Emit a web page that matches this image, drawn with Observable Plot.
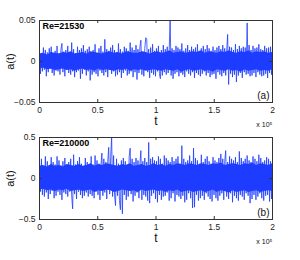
<!DOCTYPE html>
<html>
<head>
<meta charset="utf-8">
<script src="https://cdn.jsdelivr.net/npm/d3@7"></script>
<script src="https://cdn.jsdelivr.net/npm/@observablehq/plot@0.6"></script>
<style>
  html, body { margin: 0; padding: 0; background: #fff; }
  #chart > div, #chart svg { display: block; }
</style>
</head>
<body>
<div id="chart"></div>
<script>
// ---- data ----
const xTicks = [0, 0.5, 1, 1.5, 2];
const xTickLabels = ["0", "0.5", "1", "1.5", "2"];
const xLabel = "t";
const xScaleNote = "x 10⁵";
const yLabel = "a(t)";
const tMax = 2; // t in units of 10^5

const panelA_title = "Re=21530";
const panelA_tag = "(a)";
const panelA_yTicks = [-0.05, 0, 0.05];
const panelA_yTickLabels = ["−0.05", "0", "0.05"];
// sampled signal (spikes and fringe)
const panelA_values = [
  0.013,-0.015,0.009,-0.012,0.017,-0.010,0.014,-0.018,0.011,-0.013,
  0.016,-0.009,0.018,-0.014,0.010,-0.017,0.013,-0.011,0.019,-0.012,
  0.010,-0.016,0.015,0.022,-0.013,0.012,-0.018,0.014,-0.010,0.019,
  -0.014,0.011,-0.016,0.023,-0.012,0.015,-0.019,0.010,-0.013,0.018,
  -0.011,0.014,-0.021,0.016,-0.015,0.020,-0.010,0.013,-0.017,0.015,
  -0.012,0.018,-0.023,0.011,-0.016,0.014,-0.013,0.021,-0.015,0.010,
  -0.018,0.016,-0.011,0.019,-0.014,0.012,-0.017,0.027,-0.013,0.015,
  -0.019,0.013,-0.010,0.017,-0.015,0.020,-0.012,0.014,-0.018,0.011,
  -0.016,0.022,-0.013,0.015,-0.020,0.012,-0.014,0.018,-0.011,0.016,
  -0.017,0.013,-0.015,0.023,-0.012,0.017,-0.019,0.014,-0.013,0.020,
  -0.022,0.015,-0.014,0.018,0.026,-0.016,0.012,-0.018,0.016,0.029,
  0.027,-0.013,0.015,-0.020,0.017,-0.014,0.021,-0.016,0.013,-0.018,
  0.016,-0.012,0.019,-0.015,-0.021,0.014,-0.017,0.020,-0.013,0.015,
  -0.016,0.018,-0.014,0.013,0.050,-0.017,0.016,-0.021,0.014,-0.015,
  0.019,-0.013,0.017,-0.018,0.015,-0.014,0.022,-0.016,0.013,-0.019,
  0.016,-0.012,0.020,-0.015,0.014,-0.017,0.018,-0.013,0.015,-0.020,
  0.017,-0.014,0.021,-0.016,0.013,-0.018,0.016,-0.015,0.019,-0.012,
  0.015,-0.017,0.020,-0.014,0.016,-0.019,0.013,-0.016,0.018,-0.015,
  0.014,-0.021,0.017,-0.013,0.019,-0.016,0.015,-0.018,0.020,-0.014,
  0.016,-0.017,0.013,0.033,-0.028,0.018,-0.015,0.017,-0.019,0.014,
  -0.016,0.021,-0.025,0.015,-0.017,0.019,-0.014,0.016,-0.020,0.018,
  -0.013,0.017,-0.016,0.047,-0.015,0.020,-0.018,0.014,-0.017,0.019,
  -0.014,0.016,-0.019,0.017,-0.013,0.021,-0.016,0.015,-0.018,0.014,
  -0.017,0.019,-0.015,0.016,-0.020,0.017,-0.014,0.018,-0.016,0.013
];
// dense core of the band (upper / lower edge), 60 bins
const panelA_coreHi = [
  0.009,0.010,0.008,0.011,0.010,0.009,0.011,0.010,0.012,0.009,
  0.010,0.011,0.009,0.012,0.011,0.010,0.009,0.011,0.012,0.010,
  0.011,0.009,0.012,0.011,0.010,0.010,0.012,0.011,0.009,0.011,
  0.012,0.010,0.011,0.013,0.010,0.011,0.012,0.010,0.011,0.012,
  0.011,0.013,0.010,0.012,0.011,0.010,0.012,0.011,0.013,0.011,
  0.010,0.012,0.011,0.013,0.010,0.012,0.011,0.012,0.010,0.011
];
const panelA_coreLo = [
  -0.009,-0.008,-0.010,-0.009,-0.011,-0.010,-0.009,-0.011,-0.010,-0.012,
  -0.010,-0.009,-0.011,-0.010,-0.012,-0.009,-0.011,-0.010,-0.011,-0.012,
  -0.010,-0.011,-0.009,-0.012,-0.010,-0.011,-0.010,-0.012,-0.011,-0.010,
  -0.011,-0.012,-0.010,-0.011,-0.012,-0.010,-0.013,-0.011,-0.010,-0.012,
  -0.011,-0.010,-0.012,-0.011,-0.013,-0.010,-0.011,-0.012,-0.010,-0.012,
  -0.011,-0.013,-0.010,-0.012,-0.011,-0.010,-0.012,-0.011,-0.012,-0.010
];

const panelB_title = "Re=210000";
const panelB_tag = "(b)";
const panelB_yTicks = [-0.5, 0, 0.5];
const panelB_yTickLabels = ["−0.5", "0", "0.5"];
const panelB_values = [
  0.18,-0.16,0.24,-0.20,0.15,-0.22,0.27,-0.17,0.21,-0.25,
  0.16,-0.19,0.26,-0.15,0.20,-0.24,0.17,-0.21,0.27,-0.16,
  0.22,-0.20,0.16,-0.26,0.21,-0.17,0.25,-0.19,0.15,-0.22,
  0.20,-0.16,0.24,-0.21,-0.37,0.29,-0.19,0.17,-0.25,0.21,
  -0.16,0.26,-0.20,0.18,-0.24,0.15,-0.21,0.25,-0.17,0.20,
  -0.22,0.16,-0.19,0.27,-0.21,0.17,-0.24,0.28,-0.16,0.22,
  -0.20,0.18,-0.26,0.16,0.31,-0.21,0.24,-0.17,0.20,-0.25,
  0.21,0.38,-0.19,0.26,0.50,-0.22,0.28,-0.20,-0.33,0.24,
  -0.21,0.18,-0.27,-0.38,0.22,-0.43,0.25,-0.20,0.21,-0.26,
  0.17,-0.22,0.27,0.37,-0.19,0.24,-0.28,0.20,-0.21,0.25,
  -0.17,0.22,-0.24,0.18,0.34,-0.26,0.21,-0.20,0.25,-0.22,
  0.20,-0.27,0.44,-0.30,0.24,-0.21,0.26,-0.18,0.22,-0.25,
  0.21,-0.29,0.27,-0.20,0.24,-0.26,0.18,-0.22,0.28,-0.21,
  0.25,-0.17,0.22,-0.27,0.20,-0.24,0.26,-0.18,0.21,-0.28,
  0.24,-0.20,0.27,-0.22,0.18,-0.25,0.40,-0.21,0.24,-0.29,
  0.20,-0.26,0.22,-0.18,0.28,-0.24,0.21,-0.36,0.37,-0.35,
  0.25,-0.20,0.22,-0.27,0.18,-0.24,0.29,-0.21,0.20,-0.26,
  0.24,-0.18,0.27,-0.22,0.21,-0.25,0.18,-0.28,0.26,-0.20,
  0.22,-0.24,0.20,-0.27,0.25,-0.21,0.30,-0.18,0.24,-0.26,
  0.21,0.34,-0.22,0.20,-0.25,0.27,-0.18,0.24,-0.29,0.22,
  -0.21,0.26,-0.24,0.20,-0.27,0.33,-0.20,0.25,-0.22,0.21,
  -0.26,0.24,-0.18,0.28,-0.21,0.22,-0.30,0.20,-0.25,0.27,
  -0.20,0.24,-0.26,0.21,-0.22,0.29,-0.18,0.25,-0.24,0.20,
  -0.27,0.22,-0.21,0.26,-0.20,0.24,-0.28,0.21,-0.25,0.18
];
const panelB_coreHi = [
  0.15,0.16,0.14,0.17,0.15,0.16,0.14,0.17,0.16,0.15,
  0.17,0.15,0.16,0.18,0.15,0.17,0.16,0.18,0.17,0.16,
  0.15,0.17,0.16,0.18,0.15,0.16,0.17,0.15,0.16,0.18,
  0.16,0.17,0.15,0.17,0.16,0.18,0.17,0.16,0.18,0.17,
  0.16,0.18,0.17,0.16,0.18,0.17,0.19,0.16,0.17,0.18,
  0.17,0.16,0.18,0.17,0.19,0.16,0.18,0.17,0.16,0.18
];
const panelB_coreLo = [
  -0.14,-0.13,-0.15,-0.14,-0.16,-0.14,-0.15,-0.13,-0.16,-0.15,
  -0.14,-0.16,-0.15,-0.14,-0.17,-0.15,-0.16,-0.14,-0.15,-0.17,
  -0.16,-0.14,-0.15,-0.16,-0.15,-0.17,-0.14,-0.16,-0.15,-0.14,
  -0.16,-0.15,-0.17,-0.15,-0.16,-0.14,-0.17,-0.16,-0.15,-0.17,
  -0.16,-0.15,-0.17,-0.16,-0.14,-0.17,-0.15,-0.16,-0.18,-0.15,
  -0.17,-0.16,-0.15,-0.17,-0.16,-0.15,-0.17,-0.16,-0.15,-0.16
];

// ---- drawing ----
const FONT = "'Liberation Sans', Arial, Helvetica, sans-serif";
const LINE = "#1e3cff";
const FRAME = "#333";

function panel({values, coreHi, coreLo, yTicks, yTickLabels, title, tag, marginTop, marginBottom}) {
  const W = 300, H = 130, mL = 39, mR = 28;
  const plotH = H - marginTop - marginBottom;
  const plotW = W - mL - mR;
  const yMax = yTicks[yTicks.length - 1];
  const n = values.length;
  const m = coreHi.length;
  const core = coreHi.map((hi, j) => ({t: j * tMax / (m - 1), hi, lo: coreLo[j]}));
  return Plot.plot({
    width: W, height: H,
    marginLeft: mL, marginRight: mR, marginTop, marginBottom,
    style: {fontFamily: FONT, fontSize: "8.5px", color: "#222", background: "#fff", overflow: "visible"},
    x: {domain: [0, tMax]},
    y: {domain: [-yMax, yMax]},
    marks: [
      Plot.areaY(core, {x: "t", y1: "lo", y2: "hi", fill: LINE, clip: true}),
      Plot.lineY(values, {x: (d, i) => i * tMax / (n - 1), y: d => d, stroke: LINE, strokeWidth: 0.8, clip: true}),
      Plot.frame({stroke: FRAME, strokeWidth: 1}),
      Plot.tickX(xTicks, {x: d => d, stroke: FRAME, insetTop: plotH - 3}),
      Plot.tickX(xTicks, {x: d => d, stroke: FRAME, insetBottom: plotH - 3}),
      Plot.tickY(yTicks, {y: d => d, stroke: FRAME, insetRight: plotW - 3}),
      Plot.tickY(yTicks, {y: d => d, stroke: FRAME, insetLeft: plotW - 3}),
      Plot.axisX(xTicks, {tickSize: 0, tickPadding: 4, tickFormat: (d, i) => xTickLabels[i], label: null, fontSize: 8.5}),
      Plot.axisY(yTicks, {tickSize: 0, tickPadding: 4, tickFormat: (d, i) => yTickLabels[i], label: null, fontSize: 8.5}),
      Plot.text([title], {text: d => d, frameAnchor: "top-left", textAnchor: "start", lineAnchor: "top", dx: 3, dy: 2, fontWeight: "bold", fontSize: 9, fill: "#000"}),
      Plot.text([tag], {text: d => d, frameAnchor: "bottom-right", textAnchor: "end", lineAnchor: "bottom", dx: -3, dy: -4, fontSize: 10, fill: "#111"}),
      Plot.text([yLabel], {text: d => d, frameAnchor: "left", dx: -29, rotate: -90, textAnchor: "middle", fontSize: 11, fill: "#111"}),
      Plot.text([xLabel], {text: d => d, frameAnchor: "bottom", dy: 19, lineAnchor: "middle", fontSize: 12, fill: "#111"}),
      Plot.text([xScaleNote], {text: d => d, frameAnchor: "bottom-right", textAnchor: "end", dy: 22, lineAnchor: "middle", fontSize: 7, fill: "#111"})
    ]
  });
}

const chart = document.getElementById("chart");
chart.append(panel({values: panelA_values, coreHi: panelA_coreHi, coreLo: panelA_coreLo, yTicks: panelA_yTicks, yTickLabels: panelA_yTickLabels, title: panelA_title, tag: panelA_tag, marginTop: 20, marginBottom: 28}));
chart.append(panel({values: panelB_values, coreHi: panelB_coreHi, coreLo: panelB_coreLo, yTicks: panelB_yTicks, yTickLabels: panelB_yTickLabels, title: panelB_title, tag: panelB_tag, marginTop: 7, marginBottom: 41}));
</script>
</body>
</html>
